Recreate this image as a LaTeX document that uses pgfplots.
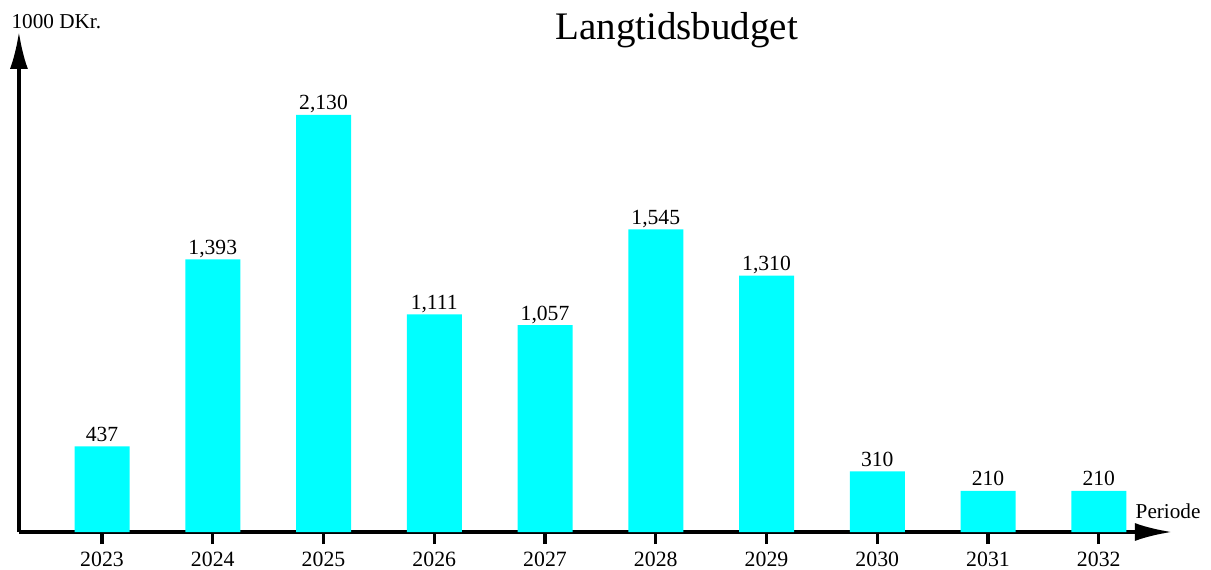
\documentclass[border=0pt]{standalone}
\usepackage{fontspec}
\setmainfont{Liberation Serif}
\usepackage{pgfplots}
\pgfplotsset{compat=1.18}
\usetikzlibrary{arrows.meta}
\definecolor{barcyan}{RGB}{0,255,255}
\begin{document}
\begin{tikzpicture}
\useasboundingbox (-51pt,-18.5pt) rectangle (554.5pt,266pt);
\begin{axis}[
  at={(0pt,0pt)}, anchor=origin,
  x=55.375pt, y=0.0979pt,
  xmin=-0.75, xmax=9.66, ymin=0, ymax=2554,
  axis lines*=left,
  clip=false,
  x axis line style={line width=1.7pt, -{Latex[length=18.5pt,width=9pt]}},
  y axis line style={line width=1.7pt, -{Latex[length=18.5pt,width=9pt]}},
  xtick={0,1,2,3,4,5,6,7,8,9},
  xticklabels={2023,2024,2025,2026,2027,2028,2029,2030,2031,2032},
  ytick=\empty,
  tick align=outside,
  major tick length=6pt,
  every tick/.style={black, line width=1.7pt},
  xtick style={line width=1.7pt},
  xticklabel style={font=\fontsize{10.9}{12}\selectfont, anchor=base, inner sep=0pt, yshift=-11.3pt},
  /pgf/number format/assume math mode=true,
  nodes near coords,
  nodes near coords style={font=\fontsize{10.8}{12}\selectfont, anchor=base, inner sep=0pt, yshift=2.5pt,
    /pgf/number format/.cd, fixed, precision=0, 1000 sep={,}, assume math mode=true},
]
\addplot[ybar, bar width=27.5pt, fill=barcyan, draw=none] coordinates {
(0,437) (1,1393) (2,2130) (3,1111) (4,1057) (5,1545) (6,1310) (7,310) (8,210) (9,210)};
\node[anchor=base, font=\fontsize{19.5}{22}\selectfont, inner sep=0pt] at (axis cs:5.19,2513) {Langtidsbudget};
\node[anchor=base west, font=\fontsize{10.6}{12}\selectfont, inner sep=0pt] at (axis cs:-0.82,2569) {1000 DKr.};
\node[anchor=base west, font=\fontsize{10.6}{12}\selectfont, inner sep=0pt] at (axis cs:9.33,71.5) {Periode};
\end{axis}
\end{tikzpicture}
\end{document}
